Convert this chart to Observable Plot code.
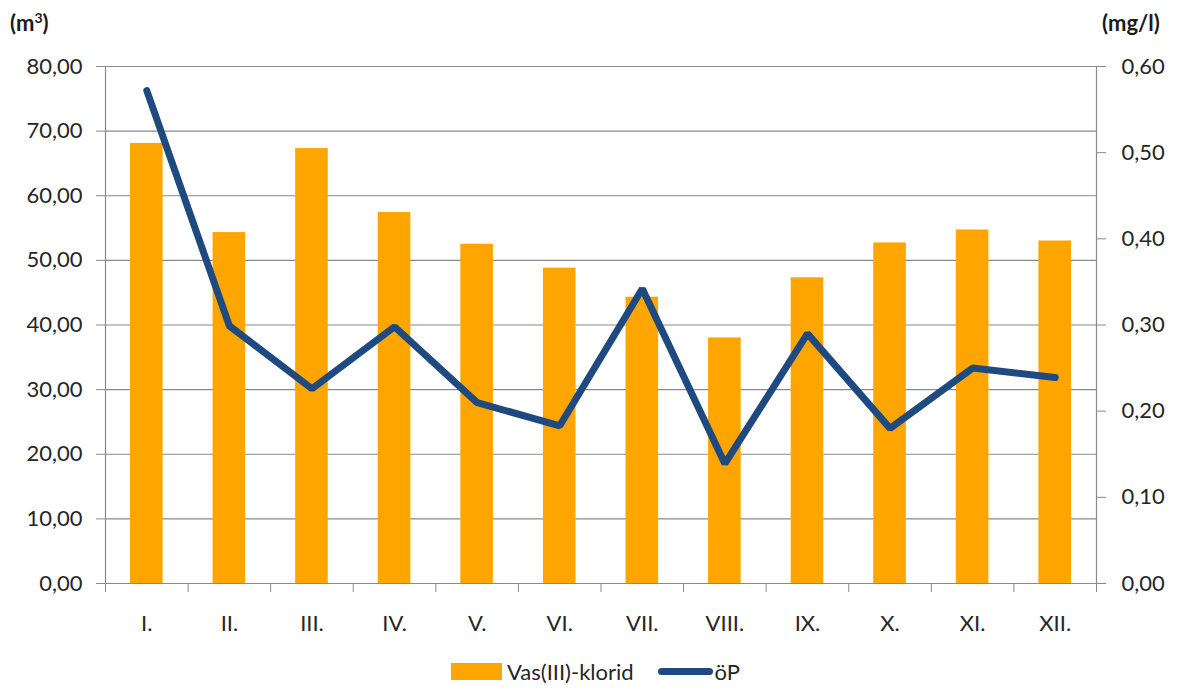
<!DOCTYPE html>
<html>
<head>
<meta charset="utf-8">
<script src="https://cdn.jsdelivr.net/npm/d3@7"></script>
<script src="https://cdn.jsdelivr.net/npm/@observablehq/plot@0.6"></script>
<style>
  body { margin: 0; background: #fff; font-family: Lato, "Open Sans", sans-serif; }
  #wrap { position: relative; width: 1181px; }
  .unit { position: absolute; top: 9px; font-weight: bold; font-size: 22px; color: #1a1a1a; }
  #legend { display: flex; justify-content: center; align-items: center; gap: 0; height: 42px; font-size: 22px; color: #262626; margin-left: 10px; }
  .sw { display: inline-block; }
</style>
</head>
<body>
<div id="wrap">
  <div class="unit" style="left:10px">(m<sup style="font-size:14px">3</sup>)</div>
  <div class="unit" style="left:1102px">(mg/l)</div>
  <div id="chart"></div>
  <div id="legend">
    <span class="sw" style="width:51px;height:17px;background:#FFA500;margin-right:5px"></span>
    <span style="margin-right:24px">Vas(III)-klorid</span>
    <span class="sw" style="width:55px;height:7px;background:#1F4A80;border-radius:4px;margin-right:2px"></span>
    <span>öP</span>
  </div>
</div>
<script>
const months = ["I.", "II.", "III.", "IV.", "V.", "VI.", "VII.", "VIII.", "IX.", "X.", "XI.", "XII."];
const vasKlorid = [68.1, 54.3, 67.3, 57.4, 52.5, 48.8, 44.3, 38.0, 47.3, 52.7, 54.7, 53.0];
const oP = [0.572, 0.299, 0.226, 0.298, 0.210, 0.183, 0.342, 0.139, 0.290, 0.180, 0.250, 0.239];
const leftTicks = [0, 10, 20, 30, 40, 50, 60, 70, 80];
const rightTicks = [0, 0.1, 0.2, 0.3, 0.4, 0.5, 0.6];
const rightMax = 0.6, leftMax = 80;

const data = months.map((m, i) => ({i, m, vas: vasKlorid[i], op: oP[i], opScaled: oP[i] * leftMax / rightMax}));
const fmt = (v) => v.toFixed(2).replace(".", ",");

const chart = Plot.plot({
  width: 1181,
  height: 650,
  marginTop: 66,
  marginBottom: 67,
  marginLeft: 105,
  marginRight: 85,
  style: {fontFamily: "Lato, 'Open Sans', sans-serif", fontSize: "22px", color: "#262626", background: "#fff"},
  x: {type: "linear", domain: [0, 12], axis: null},
  y: {domain: [0, 80], axis: null},
  marks: [
    Plot.ruleY(leftTicks, {stroke: "#8a8a8a", strokeWidth: 1.2}),
    Plot.rectY(data, {x1: "i", x2: d => d.i + 1, y: "vas", fill: "#FFA500", insetLeft: 25, insetRight: 25}),
    Plot.ruleX([0, 12], {stroke: "#8a8a8a", strokeWidth: 1.2}),
    Plot.axisY(leftTicks, {anchor: "left", label: null, tickSize: 9, tickPadding: 14, tickFormat: fmt, stroke: "#8a8a8a", fill: "#262626", fontSize: 22}),
    Plot.axisY(rightTicks.map(t => t * leftMax / rightMax), {anchor: "right", label: null, tickSize: 9, tickPadding: 16, tickFormat: d => fmt(d * rightMax / leftMax), stroke: "#8a8a8a", fill: "#262626", fontSize: 22}),
    Plot.axisX(d3.range(0, 13), {anchor: "bottom", label: null, tickSize: 9, tickFormat: () => "", stroke: "#8a8a8a"}),
    Plot.axisX(data.map(d => d.i + 0.5), {anchor: "bottom", label: null, tickSize: 0, tickPadding: 32, tickFormat: (d) => months[Math.floor(d)], fill: "#262626", fontSize: 22}),
    Plot.line(data, {x: d => d.i + 0.5, y: "opScaled", stroke: "#1F4A80", strokeWidth: 7, strokeLinejoin: "miter", strokeLinecap: "round"})
  ]
});
document.getElementById("chart").appendChild(chart);
</script>
</body>
</html>
